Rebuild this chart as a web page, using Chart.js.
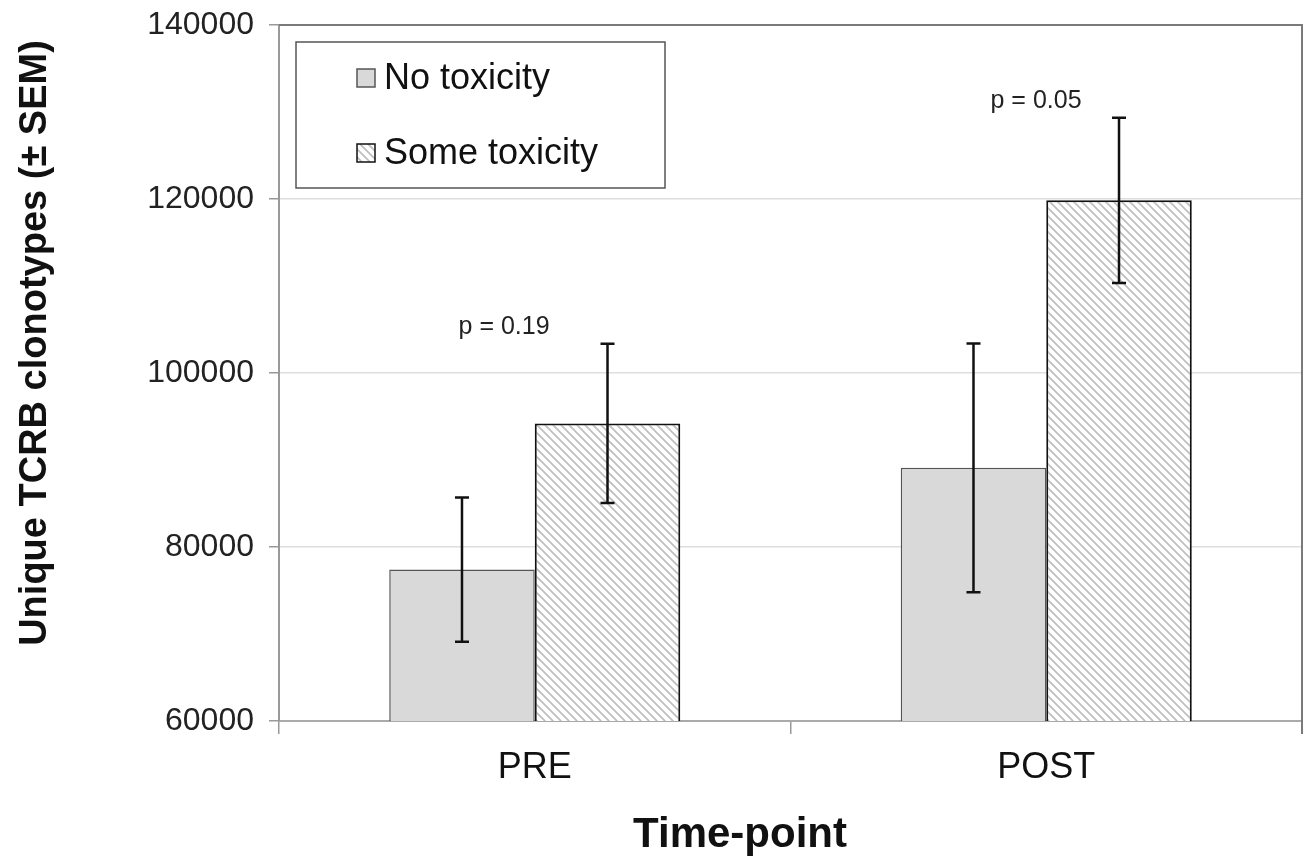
<!DOCTYPE html>
<html>
<head>
<meta charset="utf-8">
<script src="https://cdn.jsdelivr.net/npm/chart.js@4.4.1/dist/chart.umd.min.js"></script>
<style>
  html, body { margin: 0; padding: 0; background: #fff; }
  #wrap { width: 1306px; height: 861px; }
</style>
</head>
<body>
<div id="wrap"><canvas id="chart" width="1306" height="861"></canvas></div>
<script>
// data
var timepoints = ['PRE', 'POST'];
var seriesNames = ['No toxicity', 'Some toxicity'];
var noToxMean = [77400, 89100];
var noToxSem = [8300, 14300];
var someToxMean = [94200, 119850];
var someToxSem = [9150, 9500];
var yTicks = [60000, 80000, 100000, 120000, 140000];
// p-value notes: text, category position, y value
var pLabels = ['p = 0.19', 'p = 0.05'];
var pCatPos = [-0.06, 0.98];
var pYValue = [105300, 131250];

var FONT = '"Liberation Sans", Arial, Helvetica, sans-serif';

// hatched fill for "Some toxicity"
function makeHatch() {
    var s = 8;
    var c = document.createElement('canvas');
    c.width = s; c.height = s;
    var g = c.getContext('2d');
    g.fillStyle = '#ffffff';
    g.fillRect(0, 0, s, s);
    g.strokeStyle = '#bdbdbd';
    g.lineWidth = 1.6;
    g.beginPath();
    g.moveTo(-1, -1); g.lineTo(s + 1, s + 1);
    g.moveTo(-1, s - 1); g.lineTo(1, s + 1);
    g.moveTo(s - 1, -1); g.lineTo(s + 1, 1);
    g.stroke();
    return g.createPattern(c, 'repeat');
}

var ctx = document.getElementById('chart').getContext('2d');
var hatch = makeHatch();
var sems = [noToxSem, someToxSem];

var errorBars = {
    id: 'errorBars',
    afterDatasetsDraw: function(chart) {
        var c = chart.ctx, y = chart.scales.y;
        c.save();
        c.strokeStyle = '#111';
        c.lineWidth = 2.5;
        chart.data.datasets.forEach(function(ds, i) {
            var meta = chart.getDatasetMeta(i);
            meta.data.forEach(function(el, j) {
                var hi = y.getPixelForValue(ds.data[j] + sems[i][j]);
                var lo = y.getPixelForValue(ds.data[j] - sems[i][j]);
                c.beginPath();
                c.moveTo(el.x, hi); c.lineTo(el.x, lo);
                c.moveTo(el.x - 7, hi); c.lineTo(el.x + 7, hi);
                c.moveTo(el.x - 7, lo); c.lineTo(el.x + 7, lo);
                c.stroke();
            });
        });
        c.restore();
    }
};

var extras = {
    id: 'extras',
    afterDraw: function(chart) {
        var c = chart.ctx, a = chart.chartArea;
        var x = chart.scales.x, y = chart.scales.y;
        c.save();
        // top and right frame
        c.strokeStyle = '#7a7a7a';
        c.lineWidth = 2;
        c.beginPath();
        c.moveTo(a.left, a.top); c.lineTo(a.right, a.top);
        c.lineTo(a.right, a.bottom + 13);
        c.stroke();

        // p values
        c.fillStyle = '#222';
        c.font = '25px ' + FONT;
        c.textAlign = 'center';
        c.textBaseline = 'middle';
        pLabels.forEach(function(t, i) {
            c.fillText(t, x.getPixelForValue(pCatPos[i]), y.getPixelForValue(pYValue[i]));
        });

        // legend box
        var lx = a.left + 17, ly = a.top + 17;
        c.fillStyle = '#fff';
        c.fillRect(lx, ly, 369, 146);
        c.strokeStyle = '#555';
        c.lineWidth = 1.5;
        c.strokeRect(lx, ly, 369, 146);
        var rows = [ly + 36, ly + 111];
        chart.data.datasets.forEach(function(ds, i) {
            c.fillStyle = ds.backgroundColor;
            c.fillRect(lx + 61, rows[i] - 9, 18, 18);
            c.strokeStyle = i == 0 ? '#555' : '#111';
            c.lineWidth = 1.5;
            c.strokeRect(lx + 61, rows[i] - 9, 18, 18);
            c.fillStyle = '#111';
            c.font = '36px ' + FONT;
            c.textAlign = 'left';
            c.textBaseline = 'middle';
            c.fillText(ds.label, lx + 88, rows[i] + 1);
        });

        // axis titles
        c.fillStyle = '#111';
        c.font = 'bold 38px ' + FONT;
        c.textAlign = 'center';
        c.textBaseline = 'middle';
        c.save();
        c.translate(36, 343);
        c.rotate(-Math.PI / 2);
        c.fillText('Unique TCRB clonotypes (\u00b1 SEM)', 0, 0);
        c.restore();
        c.font = 'bold 42px ' + FONT;
        c.textBaseline = 'alphabetic';
        c.fillText('Time-point', 740, 847);
        c.restore();
    }
};

var chart = new Chart(ctx, {
    type: 'bar',
    data: {
        labels: timepoints,
        datasets: [{
            label: seriesNames[0],
            data: noToxMean,
            backgroundColor: '#d9d9d9',
            borderColor: '#555',
            borderWidth: 1.5
        }, {
            label: seriesNames[1],
            data: someToxMean,
            backgroundColor: hatch,
            borderColor: '#111',
            borderWidth: 2
        }]
    },
    options: {
        responsive: false,
        animation: false,
        layout: { padding: { left: 0, right: 4, top: 25, bottom: 0 } },
        datasets: { bar: { categoryPercentage: 0.569, barPercentage: 1.0 } },
        plugins: { legend: { display: false }, tooltip: { enabled: false } },
        scales: {
            x: {
                afterFit: function(s) { s.height = 140; s.paddingLeft = 0; s.paddingRight = 0; },
                grid: { drawOnChartArea: false, tickLength: 13, tickColor: '#999', lineWidth: 1.5, offset: true },
                border: { color: '#aaa', width: 2 },
                ticks: { color: '#111', font: { family: FONT, size: 36 }, padding: 12 }
            },
            y: {
                min: 60000,
                max: 140000,
                afterFit: function(s) { s.width = 279; s.paddingTop = 0; s.paddingBottom = 0; },
                afterBuildTicks: function(s) { s.ticks = yTicks.map(function(v) { return { value: v }; }); },
                grid: {
                    color: function(g) { return g.tick && g.tick.value == 140000 ? 'rgba(0,0,0,0)' : '#dedede'; },
                    tickColor: '#999', tickLength: 10, lineWidth: 1.5
                },
                border: { color: '#999', width: 2 },
                ticks: {
                    color: '#222', font: { family: FONT, size: 32 }, padding: 15,
                    callback: function(v) { return String(v); }
                }
            }
        }
    },
    plugins: [errorBars, extras]
});
</script>
</body>
</html>
